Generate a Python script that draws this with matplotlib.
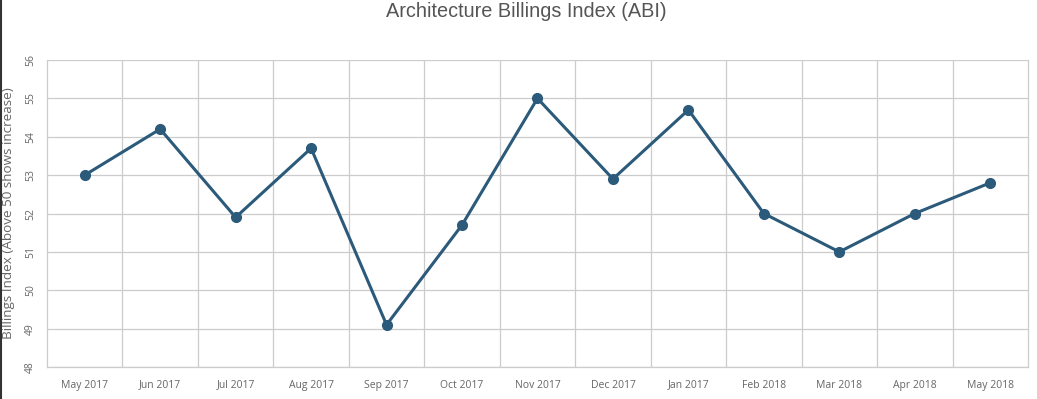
import matplotlib
matplotlib.use("Agg")
import matplotlib.pyplot as plt
from matplotlib.lines import Line2D
import numpy as np

# ABI monthly values
MONTHS = ["May 2017", "Jun 2017", "Jul 2017", "Aug 2017", "Sep 2017", "Oct 2017",
          "Nov 2017", "Dec 2017", "Jan 2017", "Feb 2018", "Mar 2018", "Apr 2018", "May 2018"]
ABI = [53.0, 54.2, 51.9, 53.7, 49.1, 51.7, 55.0, 52.9, 54.7, 52.0, 51.0, 52.0, 52.8]
Y_TICKS = [48, 49, 50, 51, 52, 53, 54, 55, 56]

LINE_COLOR = "#2b5a7a"
GRID_COLOR = "#cccccc"
TEXT_COLOR = "#666666"

fig = plt.figure(figsize=(10.37, 3.99), dpi=100)
ax = fig.add_axes([0.0453, 0.0802, 0.9460, 0.7694])

x = np.arange(len(MONTHS))
ax.plot(x, ABI, color=LINE_COLOR, linewidth=2.2, marker="o", markersize=7, zorder=3)

ax.set_xlim(-0.5, len(MONTHS) - 0.5)
ax.set_ylim(48, 56)
ax.set_yticks(Y_TICKS)
ax.set_xticks(x)
ax.set_xticklabels(MONTHS, fontsize=7.5, color=TEXT_COLOR, family="Open Sans")
ax.set_yticklabels([str(v) for v in Y_TICKS], rotation=90, va="center",
                   fontsize=7.5, color=TEXT_COLOR, family="Open Sans")
ax.tick_params(axis="x", length=0, pad=9)
ax.tick_params(axis="y", length=0, pad=8)

# horizontal grid at ticks, vertical grid between categories
for v in Y_TICKS:
    ax.axhline(v, color=GRID_COLOR, linewidth=0.9, zorder=1)
for b in x[:-1] + 0.5:
    ax.axvline(b, color=GRID_COLOR, linewidth=0.9, zorder=1)

for side in ["left", "right", "bottom"]:
    ax.spines[side].set_color(GRID_COLOR)
    ax.spines[side].set_linewidth(0.9)
ax.spines["top"].set_visible(False)

ax.set_ylabel("Billings Index (Above 50 shows increase)", fontsize=9.7,
              color=TEXT_COLOR, family="Open Sans")
ax.yaxis.set_label_coords(-0.033, 0.5)

fig.suptitle("Architecture Billings Index (ABI)", x=0.508, y=0.995, va="top",
             fontsize=14.3, color="#555555", family="Liberation Sans")

# dark edge of the screenshot on the left
fig.add_artist(Line2D([0.001, 0.001], [0, 1], transform=fig.transFigure,
                      color="#333333", linewidth=1.5))

fig.savefig("out.png", dpi=100)
